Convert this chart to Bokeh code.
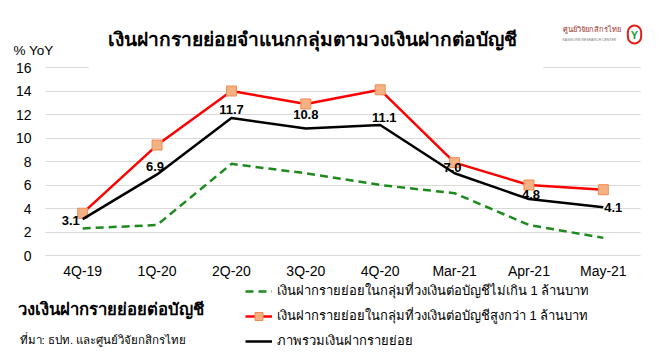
from bokeh.plotting import figure
from bokeh.models import (Range1d, FixedTicker, Label, Legend, LegendItem, BoxAnnotation)
from bokeh.embed import file_html
from bokeh.resources import INLINE

categories = ["4Q-19", "1Q-20", "2Q-20", "3Q-20", "4Q-20", "Mar-21", "Apr-21", "May-21"]
small_accounts = [2.3, 2.6, 7.8, 7.0, 6.0, 5.3, 2.6, 1.5]
large_accounts = [3.6, 9.4, 14.0, 12.9, 14.1, 7.9, 6.0, 5.6]
total_deposits = [3.1, 6.9, 11.7, 10.8, 11.1, 7.0, 4.8, 4.1]
y_ticks = [0, 2, 4, 6, 8, 10, 12, 14, 16]

FONT = "Liberation Sans"
W, H = 660, 355
xs = list(range(len(categories)))

# pixel geometry of the plotting area inside the canvas
PL, PR = 45, 640          # left / right edge of plot area
Y0, Y16 = 255, 67         # pixel rows of 0 and 16
dx = (PR - PL) / len(categories)
dy = (Y0 - Y16) / 16.0
x_start = -0.5 - PL / dx
x_end = len(categories) - 0.5 + (W - PR) / dx
y_end = Y0 / dy
y_start = -(H - Y0) / dy

p = figure(width=W, height=H, output_backend="svg", toolbar_location=None,
           x_range=Range1d(x_start, x_end), y_range=Range1d(y_start, y_end),
           min_border=0, min_border_left=0, min_border_right=0,
           min_border_top=0, min_border_bottom=0)
p.outline_line_color = None
p.background_fill_color = "white"

p.xgrid.grid_line_color = None
p.ygrid.grid_line_color = "#d9d9d9"
p.ygrid.grid_line_width = 1
p.ygrid.ticker = FixedTicker(ticks=y_ticks)

p.yaxis.fixed_location = -0.5
p.yaxis.ticker = FixedTicker(ticks=y_ticks)
p.yaxis.axis_line_color = None
p.yaxis.major_tick_line_color = None
p.yaxis.minor_tick_line_color = None
p.yaxis.major_label_standoff = 8
p.yaxis.major_label_text_font = FONT
p.yaxis.major_label_text_font_size = "14px"
p.yaxis.major_label_text_color = "#000000"

p.xaxis.fixed_location = 0
p.xaxis.ticker = FixedTicker(ticks=xs)
p.xaxis.major_label_overrides = {i: c for i, c in enumerate(categories)}
p.xaxis.axis_line_color = None
p.xaxis.major_tick_line_color = None
p.xaxis.minor_tick_line_color = None
p.xaxis.major_label_standoff = 1
p.xaxis.major_label_text_font = FONT
p.xaxis.major_label_text_font_size = "14px"
p.xaxis.major_label_text_color = "#000000"

# white masks: limit gridlines to the plot area and clear the strip behind the title
def mask(left, right, bottom, top):
    p.add_layout(BoxAnnotation(left=left, right=right, bottom=bottom, top=top,
                               fill_color="white", fill_alpha=1, line_color=None,
                               level="underlay"))
mask(x_start, -0.5, y_start, y_end)
mask(len(categories) - 0.5, x_end, y_start, y_end)
mask(-0.5 + (88 - PL) / dx, -0.5 + (543 - PL) / dx, 15.5, y_end)

GREEN = dict(line_color="#1e8a1e", line_width=2.5, line_dash="8 5")
RED = dict(line_color="#ff0000", line_width=2.5)
MARK = dict(marker="square", size=10, fill_color="#f4b183", line_color="#f08c50", line_width=1)
BLACK = dict(line_color="#000000", line_width=2.5)

r_small = p.line(xs, small_accounts, **GREEN)
r_large = p.line(xs, large_accounts, **RED)
r_large_m = p.scatter(xs, large_accounts, **MARK)
r_total = p.line(xs, total_deposits, **BLACK)

# data labels for total
offsets = [(-12, -1), (-2, 8), (0, 9), (0, 14), (4, 8), (-2, 6), (2, 5), (10, 0)]
for i, v in enumerate(total_deposits):
    ox, oy = offsets[i]
    p.add_layout(Label(x=xs[i], y=v, text=f"{v:.1f}", x_offset=ox, y_offset=oy,
                       text_align="center", text_baseline="middle",
                       text_font=FONT, text_font_size="13px", text_font_style="bold",
                       text_color="#000000"))

legend = Legend(items=[
    LegendItem(label="เงินฝากรายย่อยในกลุ่มที่วงเงินต่อบัญชีไม่เกิน 1 ล้านบาท", renderers=[r_small]),
    LegendItem(label="เงินฝากรายย่อยในกลุ่มที่วงเงินต่อบัญชีสูงกว่า 1 ล้านบาท", renderers=[r_large, r_large_m]),
    LegendItem(label="ภาพรวมเงินฝากรายย่อย", renderers=[r_total]),
], location=(245, 4))
legend.label_text_font = FONT
legend.label_text_font_size = "13px"
legend.label_text_color = "#000000"
legend.glyph_width = 27
legend.glyph_height = 20
legend.label_height = 20
legend.spacing = 4
legend.padding = 0
legend.margin = 0
legend.label_standoff = 5
legend.border_line_color = None
legend.background_fill_alpha = 0
p.add_layout(legend, "center")

# free texts, placed by canvas pixel (X from left, Y from top)
def slabel(X, Y, text, size, bold=False, color="#000000", align="left"):
    lab = Label(x=X, y=H - Y, x_units="screen", y_units="screen", text=text,
                text_font=FONT, text_font_size=size, text_color=color,
                text_font_style="bold" if bold else "normal",
                text_align=align, text_baseline="middle")
    p.add_layout(lab)
    return lab

slabel(13, 50, "% YoY", "13.5px")
slabel(312, 39, "เงินฝากรายย่อยจำแนกกลุ่มตามวงเงินฝากต่อบัญชี", "19.2px", bold=True, align="center")
slabel(17, 309, "วงเงินฝากรายย่อยต่อบัญชี", "16.7px", bold=True)
slabel(19, 339, "ที่มา: ธปท. และศูนย์วิจัยกสิกรไทย", "11.5px")
slabel(562, 29, "ศูนย์วิจัยกสิกรไทย", "7.5px", color="#a0302a")
slabel(562, 39, "KASIKORN RESEARCH CENTER", "3.5px", color="#777777")
logo = Label(x=634, y=H - 34, x_units="screen", y_units="screen", text="Y",
             text_font=FONT, text_font_size="11px", text_font_style="bold", text_color="#1a9a3a",
             text_align="center", text_baseline="middle",
             background_fill_color="white", border_line_color="#e0201a", border_line_width=2,
             padding=3, border_radius=10)
p.add_layout(logo)

open("out.html", "w").write(file_html(p, INLINE))
